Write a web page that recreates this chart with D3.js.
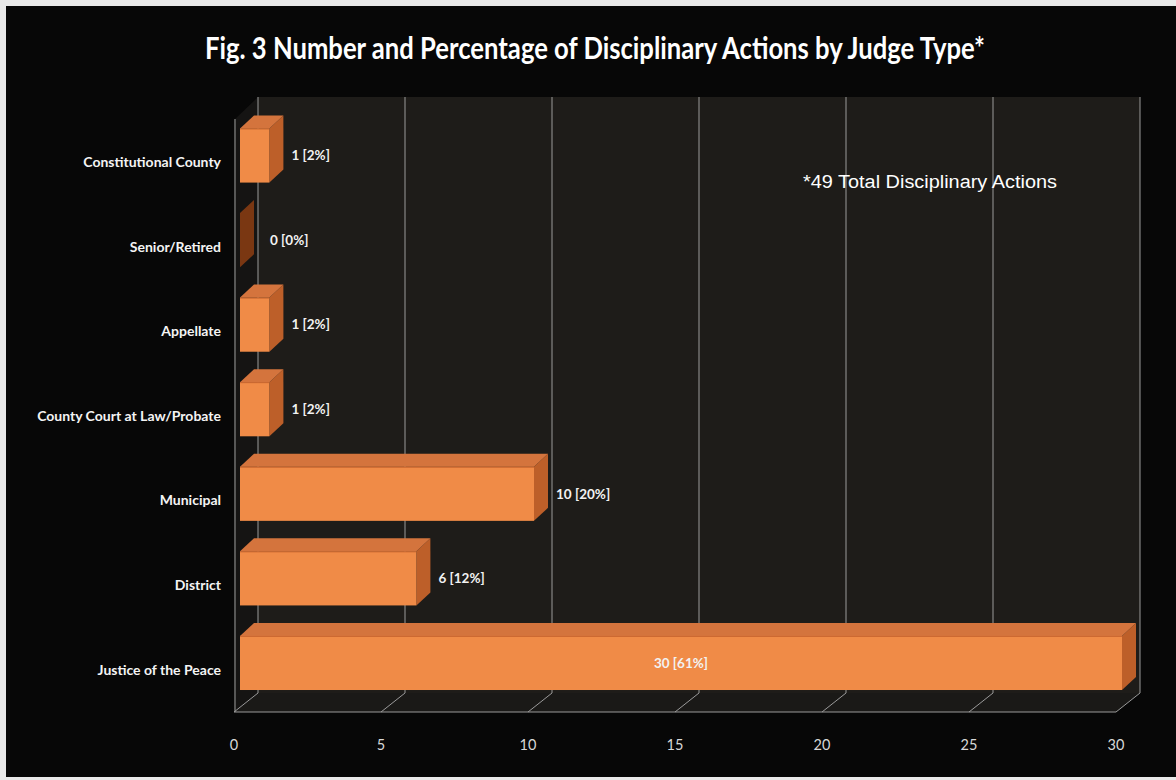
<!DOCTYPE html>
<html><head><meta charset="utf-8">
<script src="https://cdn.jsdelivr.net/npm/d3@7"></script>
<style>html,body{margin:0;padding:0;background:#e9e9e9;}svg{display:block;}</style>
</head><body>
<script>
const categories = ["Constitutional County","Senior/Retired","Appellate","County Court at Law/Probate","Municipal","District","Justice of the Peace"];
const counts = [1,0,1,1,10,6,30];
const percents = [2,0,2,2,20,12,61];
const ticks = [0,5,10,15,20,25,30];
const title = "Fig. 3 Number and Percentage of Disciplinary Actions by Judge Type*";
const note = "*49 Total Disciplinary Actions";

const W = 1176, H = 780;
const svg = d3.select("body").append("svg").attr("width", W).attr("height", H);

svg.append("rect").attr("x",0).attr("y",0).attr("width",W).attr("height",H).attr("fill","#e9e9e9");
svg.append("rect").attr("x",6).attr("y",6).attr("width",W-6).attr("height",H-9).attr("fill","#070707");

const x = d3.scaleLinear().domain([0,30]).range([234,1116]);
const xb = d3.scaleLinear().domain([0,30]).range([240,1122]);
const DX = 24, DY = -19;
const y = d3.scaleBand().domain(categories).range([120,712]);
const step = y.step();

const wallFill = "#1e1c19";
svg.append("polygon").attr("points",[[x(0)+DX,97],[x(30)+DX,97],[x(30)+DX,712+DY],[x(0)+DX,712+DY]].join(" ")).attr("fill",wallFill);
svg.append("polygon").attr("points",[[x(0),120],[x(0)+DX,97],[x(0)+DX,712+DY],[x(0),712]].join(" ")).attr("fill","#151413");
svg.append("polygon").attr("points",[[x(0),712],[x(0)+DX,712+DY],[x(30)+DX,712+DY],[x(30),712]].join(" ")).attr("fill","#1a1917");

const lineCol = "#9a9a9a";
svg.append("g").selectAll("line").data(ticks).join("line")
  .attr("x1",d=>x(d)+DX).attr("x2",d=>x(d)+DX).attr("y1",97).attr("y2",712+DY)
  .attr("stroke",lineCol).attr("stroke-width",1);
svg.append("g").selectAll("line").data(ticks).join("line")
  .attr("x1",d=>x(d)).attr("x2",d=>x(d)+DX).attr("y1",712).attr("y2",712+DY)
  .attr("stroke",lineCol).attr("stroke-width",1);
svg.append("line").attr("x1",x(0)).attr("x2",x(30)).attr("y1",712).attr("y2",712).attr("stroke",lineCol);
svg.append("line").attr("x1",x(0)+1).attr("x2",x(0)+1).attr("y1",119).attr("y2",712).attr("stroke",lineCol);

const BD = 14, BDY = -13;
const faceTop = c => y(c) + step*0.1;
const faceH = step*0.64;
const bars = svg.append("g").selectAll("g").data(categories).join("g");
bars.append("polygon").attr("points",(c,i)=>{
  const x1 = xb(counts[i]), t = faceTop(c);
  return [[x1,t],[x1+BD,t+BDY],[x1+BD,t+BDY+faceH],[x1,t+faceH]].join(" ");
}).attr("fill",(c,i)=>counts[i]===0?"#7a3712":"#bd5f29");
bars.append("polygon").attr("points",(c,i)=>{
  const x0 = xb(0), x1 = xb(counts[i]), t = faceTop(c);
  return [[x0,t],[x0+BD,t+BDY],[x1+BD,t+BDY],[x1,t]].join(" ");
}).attr("fill","#d4743d");
bars.append("rect").attr("x",xb(0)).attr("y",c=>faceTop(c))
  .attr("width",(c,i)=>xb(counts[i])-xb(0)).attr("height",faceH).attr("fill","#f08b47");
bars.append("line").attr("x1",xb(0)).attr("x2",(c,i)=>xb(counts[i]))
  .attr("y1",c=>faceTop(c)+0.5).attr("y2",c=>faceTop(c)+0.5).attr("stroke","#c8652f").attr("stroke-width",1);

const lbl = (i)=>`${counts[i]} [${percents[i]}%]`;
svg.append("g").selectAll("text").data(categories).join("text")
  .attr("x",(c,i)=>counts[i]>=20 ? (xb(0)+xb(counts[i]))/2 : xb(counts[i])+BD+(counts[i]===0?16:8))
  .attr("y",c=>faceTop(c)+faceH/2)
  .attr("dy","0.35em")
  .attr("text-anchor",(c,i)=>counts[i]>=20?"middle":"start")
  .attr("fill","#f2f2f2").attr("font-family","Lato, 'Open Sans', sans-serif").attr("font-weight",700)
  .attr("font-size",13.5).text((c,i)=>lbl(i));

svg.append("g").selectAll("text").data(categories).join("text")
  .attr("x",221).attr("y",c=>y(c)+step/2).attr("dy","0.35em").attr("text-anchor","end")
  .attr("fill","#f4f4f4").attr("font-family","Lato, 'Open Sans', sans-serif").attr("font-weight",700)
  .attr("font-size",14).text(d=>d);

svg.append("g").selectAll("text").data(ticks).join("text")
  .attr("x",d=>x(d)).attr("y",745).attr("dy","0.35em").attr("text-anchor","middle")
  .attr("fill","#d8d8d8").attr("font-family","Lato, 'Open Sans', sans-serif")
  .attr("font-size",14.5).text(d=>d);

svg.append("text").attr("x",595).attr("y",59).attr("text-anchor","middle")
  .attr("fill","#ffffff").attr("font-family","Lato, 'Open Sans', sans-serif").attr("font-weight",700)
  .attr("font-size",30).attr("textLength",780).attr("lengthAdjust","spacingAndGlyphs").text(title);

svg.append("text").attr("x",803).attr("y",188)
  .attr("fill","#ffffff").attr("font-family","'Liberation Sans', Arial, sans-serif")
  .attr("font-size",18).attr("textLength",254).attr("lengthAdjust","spacingAndGlyphs").text(note);
</script>
</body></html>
